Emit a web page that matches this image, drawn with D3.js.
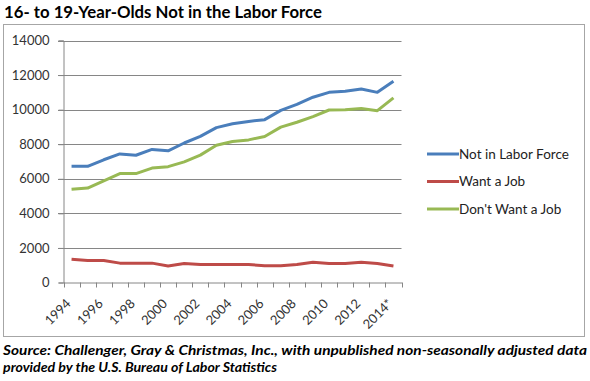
<!DOCTYPE html>
<html><head><meta charset="utf-8">
<script src="https://cdn.jsdelivr.net/npm/d3@7"></script>
<style>body{margin:0;background:#fff}svg{display:block}</style>
</head><body>
<svg id="c" width="590" height="381"></svg>
<script>
const years = ["1994","1995","1996","1997","1998","1999","2000","2001","2002","2003","2004","2005","2006","2007","2008","2009","2010","2011","2012","2013","2014*"];
const notInLaborForce = [6720,6720,7100,7440,7360,7700,7620,8070,8450,8960,9180,9320,9420,9960,10300,10720,11000,11070,11190,11000,11640];
const wantAJob = [1340,1270,1270,1120,1120,1120,960,1100,1040,1040,1040,1040,970,970,1040,1170,1100,1100,1170,1100,950];
const dontWantAJob = [5390,5460,5880,6300,6300,6620,6700,6980,7370,7940,8160,8250,8450,8990,9270,9600,9980,10000,10060,9940,10680];
const yTicks = [0,2000,4000,6000,8000,10000,12000,14000];
const seriesNames = ["Not in Labor Force","Want a Job","Don't Want a Job"];
const colors = ["#4a7ebb","#be4b48","#98b954"];

const svg = d3.select("#c");
// title
svg.append("text").attr("x",4).attr("y",18)
  .attr("font-family","Lato").attr("font-weight","bold").attr("font-size",17)
  .attr("textLength",318).attr("lengthAdjust","spacingAndGlyphs")
  .attr("fill","#000").text("16- to 19-Year-Olds Not in the Labor Force");
// chart frame
svg.append("rect").attr("x",3.5).attr("y",24.5).attr("width",581).attr("height",312)
  .attr("fill","#fff").attr("stroke","#a6a6a6").attr("stroke-width",1);

const x = d3.scaleBand().domain(years).range([63.5,401.5]);
const y = d3.scaleLinear().domain([0,14000]).range([282.5,40.5]);

// gridlines
svg.append("g").selectAll("line").data(yTicks.slice(1)).join("line")
  .attr("x1",58).attr("x2",401.5).attr("y1",d=>Math.round(y(d))+0.5).attr("y2",d=>Math.round(y(d))+0.5)
  .attr("stroke","#868686").attr("stroke-width",1);

// y axis
const ya = svg.append("g").attr("transform","translate(63.5,0)")
  .call(d3.axisLeft(y).tickValues(yTicks).tickSize(5).tickPadding(9).tickFormat(d3.format("d")));
ya.select(".domain").attr("stroke","#868686");
ya.selectAll(".tick line").attr("stroke","#868686");
ya.selectAll(".tick text").attr("font-family","Lato").attr("font-size",13).attr("fill","#333");

// x axis
const xa = svg.append("g").attr("transform","translate(0,282.5)")
  .call(d3.axisBottom(x).tickSize(0).tickFormat(""));
xa.select(".domain").attr("stroke","#868686");
xa.selectAll(".tick").remove();
const bounds = d3.range(years.length+1).map(i=>x.range()[0]+i*x.step());
xa.selectAll("line.b").data(bounds).join("line").attr("class","b")
  .attr("x1",d=>Math.round(d)+0.5).attr("x2",d=>Math.round(d)+0.5).attr("y1",0).attr("y2",5)
  .attr("stroke","#868686");
xa.selectAll("text.l").data(years.filter((d,i)=>i%2===0)).join("text").attr("class","l")
  .attr("transform",d=>`translate(${x(d)+x.bandwidth()/2},${22}) rotate(-45)`)
  .attr("text-anchor","end").attr("font-family","Lato").attr("font-size",13).attr("fill","#333")
  .text(d=>d);

// lines
const allSeries = [notInLaborForce, wantAJob, dontWantAJob];
const line = d3.line().x((d,i)=>x(years[i])+x.bandwidth()/2).y(d=>y(d));
svg.append("g").selectAll("path").data(allSeries).join("path")
  .attr("d",d=>line(d)).attr("fill","none")
  .attr("stroke",(d,i)=>colors[i]).attr("stroke-width",3).attr("stroke-linejoin","round");

// legend
const lg = svg.append("g").selectAll("g").data(seriesNames).join("g")
  .attr("transform",(d,i)=>`translate(427,${154+i*27.5})`);
lg.append("line").attr("x1",0).attr("x2",32).attr("y1",0).attr("y2",0)
  .attr("stroke",(d,i)=>colors[i]).attr("stroke-width",3);
lg.append("text").attr("x",32).attr("y",4.5).attr("font-family","Lato").attr("font-size",13.5)
  .attr("fill","#222").text(d=>d);

// source
svg.append("text").attr("x",3).attr("y",355).attr("font-family","Lato").attr("font-weight","bold")
  .attr("font-style","italic").attr("font-size",13).attr("textLength",584).attr("lengthAdjust","spacingAndGlyphs")
  .text("Source: Challenger, Gray & Christmas, Inc., with unpublished non-seasonally adjusted data");
svg.append("text").attr("x",3).attr("y",372).attr("font-family","Lato").attr("font-weight","bold")
  .attr("font-style","italic").attr("font-size",13).attr("textLength",274).attr("lengthAdjust","spacingAndGlyphs")
  .text("provided by the U.S. Bureau of Labor Statistics");
</script>
</body></html>
